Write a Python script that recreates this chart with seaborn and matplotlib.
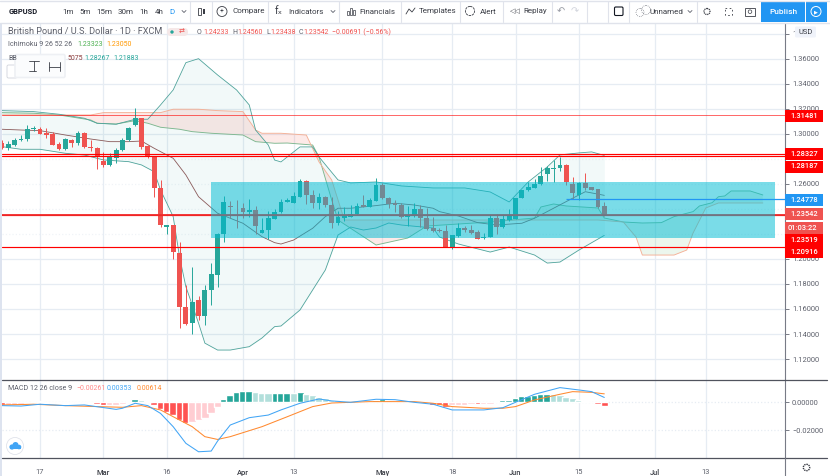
import numpy as np
import pandas as pd
import seaborn as sns
import matplotlib.pyplot as plt
from matplotlib.patches import Rectangle, Circle, FancyBboxPatch

# daily candles GBPUSD, first bar is 6 sessions before 17 Feb
opens = [1.2930,1.2885,1.2911,1.2951,1.2956,1.3036,1.3039,1.3007,1.2996,1.2916,1.2879,1.2948,
         1.2924,1.3010,1.2898,1.2887,1.2783,1.2752,1.2810,1.2869,1.2951,1.3071,1.3127,1.2903,
         1.2818,1.2568,1.2259,1.2270,1.2049,1.1616,1.1488,1.1671,1.1541,1.1754,1.1874,1.2201,
         1.2422,1.2416,1.2408,1.2371,1.2392,1.2211,1.2232,1.2320,1.2378,1.2455,1.2450,1.2498,
         1.2623,1.2511,1.2450,1.2498,1.2431,1.2290,1.2325,1.2338,1.2359,1.2431,1.2418,1.2466,
         1.2591,1.2484,1.2445,1.2431,1.2336,1.2349,1.2397,1.2325,1.2245,1.2234,1.2224,1.2086,
         1.2187,1.2248,1.2232,1.2216,1.2171,1.2176,1.2325,1.2256,1.2312,1.2322,1.2484,1.2551,
         1.2570,1.2596,1.2681,1.2721,1.2729,1.2748,1.2599,1.2511,1.2607,1.2575,1.2556,1.2423]
highs = [1.2951,1.2946,1.2964,1.2991,1.3071,1.3063,1.3057,1.3049,1.3012,1.2938,1.2970,1.2956,
         1.3023,1.3012,1.2951,1.2892,1.2853,1.2845,1.2885,1.2964,1.3057,1.3204,1.3127,1.2911,
         1.2826,1.2632,1.2273,1.2273,1.2132,1.1794,1.1935,1.1701,1.1794,1.1967,1.2206,1.2499,
         1.2459,1.2472,1.2446,1.2480,1.2419,1.2325,1.2383,1.2399,1.2477,1.2485,1.2538,1.2636,
         1.2631,1.2551,1.2524,1.2503,1.2498,1.2383,1.2418,1.2431,1.2445,1.2511,1.2485,1.2644,
         1.2610,1.2498,1.2471,1.2445,1.2423,1.2445,1.2431,1.2405,1.2338,1.2245,1.2272,1.2195,
         1.2290,1.2264,1.2272,1.2232,1.2205,1.2352,1.2359,1.2352,1.2397,1.2484,1.2551,1.2618,
         1.2636,1.2732,1.2743,1.2790,1.2812,1.2758,1.2652,1.2612,1.2689,1.2578,1.2556,1.2456]
lows = [1.2877,1.2871,1.2903,1.2943,1.2946,1.3025,1.2996,1.2970,1.2911,1.2871,1.2871,1.2892,
        1.2911,1.2890,1.2863,1.2720,1.2738,1.2743,1.2770,1.2866,1.2946,1.3063,1.2877,1.2810,
        1.2491,1.2259,1.2201,1.2001,1.1445,1.1475,1.1403,1.1515,1.1475,1.1634,1.1775,1.2132,
        1.2326,1.2246,1.2326,1.2334,1.2201,1.2205,1.2160,1.2317,1.2370,1.2453,1.2445,1.2492,
        1.2437,1.2405,1.2399,1.2418,1.2245,1.2272,1.2304,1.2333,1.2354,1.2418,1.2413,1.2463,
        1.2477,1.2405,1.2378,1.2325,1.2264,1.2338,1.2253,1.2232,1.2219,1.2219,1.2093,1.2078,
        1.2179,1.2219,1.2197,1.2157,1.2160,1.2173,1.2200,1.2250,1.2304,1.2317,1.2484,1.2546,
        1.2564,1.2591,1.2625,1.2618,1.2705,1.2591,1.2477,1.2471,1.2551,1.2551,1.2405,1.2344]
closes = [1.2885,1.2916,1.2951,1.2959,1.3039,1.3044,1.3002,1.2994,1.2911,1.2879,1.2959,1.2927,
          1.3010,1.2895,1.2890,1.2818,1.2752,1.2813,1.2871,1.2951,1.3049,1.3127,1.2898,1.2823,
          1.2563,1.2275,1.2273,1.2052,1.1613,1.1483,1.1658,1.1541,1.1754,1.1882,1.2201,1.2451,
          1.2411,1.2411,1.2371,1.2392,1.2265,1.2232,1.2325,1.2378,1.2458,1.2469,1.2503,1.2623,
          1.2511,1.2450,1.2495,1.2431,1.2290,1.2336,1.2344,1.2359,1.2426,1.2418,1.2469,1.2591,
          1.2490,1.2439,1.2431,1.2338,1.2352,1.2399,1.2325,1.2240,1.2224,1.2221,1.2093,1.2192,
          1.2248,1.2229,1.2208,1.2157,1.2176,1.2325,1.2256,1.2320,1.2352,1.2484,1.2551,1.2575,
          1.2599,1.2663,1.2727,1.2724,1.2748,1.2612,1.2530,1.2607,1.2570,1.2554,1.2418,1.2354]
macd_hist = [-.0019,-.0017,-.0016,-.0014,-.0006,.0011,.0010,-.0005,-.0006,-.0007,-.0003,-.0005,
             -.0006,-.0007,-.0007,-.0012,-.0023,-.0022,-.0019,-.0012,.0012,.0024,.0017,.0010,
             -.0019,-.0048,-.0067,-.0092,-.0128,-.0147,-.0140,-.0128,-.0111,-.0075,-.0031,.0027,
             .0053,.0072,.0082,.0084,.0072,.0067,.0066,.0067,.0068,.0070,.0069,.0077,
             .0063,.0053,.0039,.0029,.0019,.0014,.0010,.0007,.0009,.0010,.0011,.0014,
             .0022,.0017,.0012,.0010,-.0005,.0007,-.0005,-.0007,-.0019,-.0020,-.0031,-.0019,
             -.0017,-.0016,-.0014,-.0015,-.0014,-.0012,.0010,.0017,.0018,.0029,.0043,.0046,
             .0051,.0058,.0060,.0058,.0053,.0041,.0029,.0019,.0010,.0002,-.0012,-.0026]

# indicators, read at some bars only
upper_x = [-6,-1,3,7,9,12,15,17,19,21,23,25,28,31,33,34,36,37,38,39,41,43,44,47,49,53,57,62,67,71,74,77,80,82,85,87,89]
upper_y = [1.3185,1.3177,1.3156,1.3124,1.3084,1.3076,1.3116,1.3116,1.3230,1.3350,1.3568,1.3600,1.3470,
           1.3350,1.3230,1.3030,1.2910,1.2790,1.2775,1.2815,1.2895,1.2895,1.2815,1.2631,1.2607,1.2615,
           1.2583,1.2567,1.2567,1.2535,1.2455,1.2615,1.2735,1.2831,1.2847,1.2855,1.2827]
lower_x = [-6,-3,0,4,7,10,14,16,18,19,21,22,23,25,26,28,30,33,35,37,38,41,45,47,49,51,53,55,57,62,63,66,71,74,78,80,82,85,89]
lower_y = [1.2897,1.2876,1.2876,1.2844,1.2830,1.2791,1.2777,1.2751,1.2697,1.2551,1.2338,1.2018,1.1778,
           1.1487,1.1327,1.1272,1.1272,1.1299,1.1368,1.1459,1.1464,1.1592,1.1912,1.2191,1.2255,1.2231,
           1.2247,1.2287,1.2271,1.2247,1.2175,1.2119,1.2055,1.2095,1.2031,1.1967,1.1975,1.2071,1.2188]
basis_x = [-6,-3,0,4,8,11,14,16,18,21,23,25,28,32,35,37,38,40,43,45,47,49,53,56,59,62,63,66,69,72,76,78,81,84,86,89]
basis_y = [1.3036,1.3030,1.3025,1.2990,1.2958,1.2937,1.2937,1.2942,1.2884,1.2804,1.2671,1.2497,1.2365,
           1.2285,1.2178,1.2130,1.2119,1.2151,1.2245,1.2338,1.2405,1.2405,1.2426,1.2445,1.2431,1.2405,
           1.2378,1.2343,1.2290,1.2271,1.2285,1.2325,1.2405,1.2485,1.2537,1.2508]
span_a_x = [-6,-1,3,8,9,12,15,17,19,22,24,27,32,34,37,39,43,44,46,47,53,58,61,71,78,79,81,83,88,89,92,95,98,100,103,104,106,107,108,109,112,114]
span_a_y = [1.3169,1.3164,1.3150,1.3110,1.3084,1.3078,1.3105,1.3084,1.3052,1.3036,1.3017,1.3004,1.2990,
            1.2937,1.2924,1.2926,1.2910,1.2815,1.2471,1.2311,1.2111,1.2167,1.2263,1.2295,1.2327,1.2415,
            1.2439,1.2423,1.2407,1.2327,1.2295,1.2287,1.2290,1.2338,1.2378,1.2423,1.2449,1.2497,1.2503,
            1.2543,1.2543,1.2511]
span_b_x = [-6,8,10,19,21,25,28,32,34,35,38,42,44,46,48,88,92,94,95,100,102,103,105,107,114]
span_b_y = [1.3150,1.3150,1.3169,1.3169,1.3196,1.3196,1.3185,1.3177,1.3030,1.3004,1.3004,1.2990,1.2775,
            1.2631,1.2311,1.2311,1.2295,1.2175,1.2031,1.2031,1.2071,1.2207,1.2407,1.2447,1.2447]
macd_x = [-6,-3,0,4,7,12,13,15,17,19,21,23,25,27,28,30,33,36,38,41,44,46,49,53,56,59,62,65,70,73,75,78,82,85,87,89]
macd_y = [-.0024,-.0027,-.0014,-.0024,-.0019,-.0051,-.0043,-.0007,-.0024,-.0080,-.0176,-.0296,-.0357,
          -.0352,-.0280,-.0164,-.0111,-.0092,-.0055,-.0007,.0024,.0010,.0000,.0022,.0019,.0000,-.0014,
          -.0055,-.0055,-.0039,.0000,.0058,.0106,.0089,.0077,.0035]
signal_x = [-6,-1,4,9,13,16,19,21,24,26,28,30,35,39,43,46,52,59,62,65,70,73,75,78,82,84,87,89]
signal_y = [-.0019,-.0014,-.0024,-.0031,-.0036,-.0024,-.0055,-.0104,-.0176,-.0248,-.0268,-.0248,-.0176,
            -.0104,-.0031,-.0005,.0005,.0005,-.0007,-.0031,-.0043,-.0043,-.0031,.0017,.0058,.0077,.0072,.0061]

price_ticks = [1.12,1.14,1.16,1.18,1.20,1.22,1.24,1.26,1.28,1.30,1.32,1.34,1.36,1.38]
price_labels = ['1.12000','1.14000','1.16000','1.18000','1.20000','','','1.26000','','1.30000','1.32000','1.34000','1.36000','1']
faint_ticks = [1.22,1.24,1.26,1.28]
macd_ticks = [0.0,-0.02]
date_ticks = [0,10,20,32,40,54,65,75,85,97,105]
date_labels = ['17','Mar','16','Apr','13','May','18','Jun','15','Jul','13']

red_levels = [1.31481,1.2838,1.2820,1.23542,1.20916]
blue_level = 1.24778
box_x = [27,116]
box_y = [1.2170,1.2617]

RED = '#EF5350'
GREEN = '#26A69A'
GRID = '#E6ECF3'
TXT = '#5D606B'

sns.set_style('white')
plt.rcParams['font.family'] = ['Roboto','DejaVu Sans']

W,H = 830,476
fig = plt.figure(figsize=(8.3,4.76),dpi=100,facecolor='white')
ax = fig.add_axes([2/W,1-379.7/H,783/W,356.7/H])
ax2 = fig.add_axes([2/W,1-458/H,783/W,78/H])

bars = np.arange(-6,90)
df = pd.DataFrame({'bar':bars,'o':opens,'h':highs,'l':lows,'c':closes,'mh':macd_hist})
df['up'] = df.c>=df.o

# bollinger + cloud fills
grid = np.arange(-6,115)
bb_u = np.interp(bars,upper_x,upper_y)
bb_l = np.interp(bars,lower_x,lower_y)
ax.fill_between(bars,bb_l,bb_u,color=GREEN,alpha=.06,lw=0,zorder=1)
a = np.interp(grid,span_a_x,span_a_y)
b = np.interp(grid,span_b_x,span_b_y)
ax.fill_between(grid,a,b,where=a>=b,interpolate=True,color='#4CAF50',alpha=.10,lw=0,zorder=1)
ax.fill_between(grid,a,b,where=a<b,interpolate=True,color='#F44336',alpha=.11,lw=0,zorder=1)

sns.lineplot(x=span_a_x,y=span_a_y,color='#7DB78F',linewidth=.65,errorbar=None,ax=ax,zorder=2)
sns.lineplot(x=span_b_x,y=span_b_y,color='#F4B096',linewidth=.65,errorbar=None,ax=ax,zorder=2)
sns.lineplot(x=upper_x,y=upper_y,color='#4FA39B',linewidth=.6,errorbar=None,ax=ax,zorder=2)
sns.lineplot(x=lower_x,y=lower_y,color='#4FA39B',linewidth=.6,errorbar=None,ax=ax,zorder=2)
sns.lineplot(x=basis_x,y=basis_y,color='#8A5A5A',linewidth=.6,errorbar=None,ax=ax,zorder=2)

# candles
for up,col in ((True,GREEN),(False,RED)):
    d = df[df.up==up]
    ax.vlines(d.bar,d.l,d.h,color=col,lw=.7,zorder=3)
    ax.bar(d.bar,np.maximum((d.c-d.o).abs(),.0004),bottom=d[['o','c']].min(axis=1),width=.76,color=col,lw=0,zorder=3)

# levels
for k,v in enumerate(red_levels):
    ax.axhline(v,color='#FF0000',lw=.7 if k==0 else .85,alpha=.6 if k==0 else 1,zorder=4)
ax.axhline(red_levels[3],color='#F02A2A',lw=1.3,zorder=4)
ax.add_patch(Rectangle((box_x[0],box_y[0]),box_x[1]-box_x[0],box_y[1]-box_y[0],fc='#00BCD4',alpha=.52,lw=0,zorder=5))
ax.hlines(blue_level,83,117.5,color='#2196F3',lw=.9,zorder=6)

ax.set_xlim(-6,117.5)
ax.set_ylim(1.1035,1.3885)
ax.yaxis.tick_right()
ax.set_yticks(price_ticks)
ax.set_yticklabels(price_labels,fontsize=5.4,color=TXT)
ax.set_xticks(date_ticks)
ax.tick_params(axis='x',bottom=False,labelbottom=False)
ax.tick_params(axis='y',right=True,length=3,width=.7,color='#787B86',pad=2)
ax.grid(True,color=GRID,lw=.9)
ax.set_axisbelow(True)
for t,gl in zip(price_ticks,ax.yaxis.get_gridlines()):
    if t in faint_ticks:
        gl.set_linestyle(':')
        gl.set_alpha(.6)
for s in ['top','left','bottom']:
    ax.spines[s].set_visible(False)
ax.spines['right'].set_color('#787B86')

# macd panel
df['prev'] = df.mh.shift(1)
df['state'] = np.where(df.mh>=0,np.where(df.mh>=df.prev,'gd','gl'),np.where((df.mh<=df.prev)|df.prev.isna(),'rd','rl'))
pal = {'gd':GREEN,'gl':'#B2DFDB','rd':'#FF5252','rl':'#FFCDD2'}
sns.barplot(x=df.bar,y=df.mh,hue=df.state,palette=pal,native_scale=True,dodge=False,legend=False,
            width=1.2,saturation=1,errorbar=None,ax=ax2,zorder=2)
sns.lineplot(x=signal_x,y=signal_y,color='#FF8A30',linewidth=.75,errorbar=None,ax=ax2,zorder=3)
sns.lineplot(x=macd_x,y=macd_y,color='#42A5F5',linewidth=.75,errorbar=None,ax=ax2,zorder=4)
ax2.set_xlim(-6,117.5)
ax2.set_ylim(-.0402,.0161)
ax2.yaxis.tick_right()
ax2.set_yticks(macd_ticks)
ax2.set_yticklabels(['0.00000','\u22120.02000'],fontsize=5.4,color=TXT)
ax2.set_xticks(date_ticks)
ax2.set_xticklabels(date_labels,fontsize=5.4,color=TXT)
ax2.set_xlabel('')
ax2.set_ylabel('')
ax2.tick_params(axis='x',bottom=False,pad=4.5)
ax2.tick_params(axis='y',right=True,length=3,width=.7,color='#787B86',pad=2)
ax2.grid(True,color=GRID,lw=.9)
ax2.set_axisbelow(True)
for gl in ax2.yaxis.get_gridlines():
    gl.set_linestyle(':')
for s in ['top','left','bottom']:
    ax2.spines[s].set_visible(False)
ax2.spines['right'].set_color('#787B86')
for lab in ax2.get_xticklabels():
    if lab.get_text() in ('Mar','Apr','May','Jun','Jul'):
        lab.set_color('#3A3D45')
        lab.set_fontweight('medium')

# interface layer on top, in pixels
ui = fig.add_axes([0,0,1,1],zorder=20)
ui.set_xlim(0,W)
ui.set_ylim(H,0)
ui.axis('off')
ui.patch.set_alpha(0)

def txt(x,y,s,size=5.8,color='#3A3D45',**kw):
    kw.setdefault('ha','left')
    ui.text(x,y,s,fontsize=size,color=color,va='center',**kw)

ui.add_patch(Rectangle((0,0),2,H,fc='#DDE3EF',lw=0))
ui.add_patch(Rectangle((0,0),W,22.5,fc='white',lw=0))
ui.plot([0,W],[22.5,22.5],color='#E0E3EB',lw=1)
ui.plot([0,W],[0.5,0.5],color='#E0E3EB',lw=1)
for xs in [190,212,268,339,401,460,503,552,587,608,629,697]:
    ui.plot([xs,xs],[1,22],color='#E0E3EB',lw=.8)
ui.plot([2,827],[379.7,379.7],color='#50535E',lw=.9)
ui.plot([2,827],[458,458],color='#50535E',lw=.9)
ui.plot([785,785],[458,476],color='#787B86',lw=.8)

txt(9,11.5,'GBPUSD',5.4,'#131722',fontweight='bold')
for x,s in zip([68,85,104,126,144,159],['1m','5m','15m','30m','1h','4h']):
    txt(x,11.5,s,5.8,ha='center')
txt(172,11.5,'D',5.8,'#2196F3',ha='center')
ui.plot([182,184,186],[10.5,12.5,10.5],color=TXT,lw=.6)
# candle icon
ui.add_patch(Rectangle((198,8),2.5,7,fc='none',ec='#3A3D45',lw=.6))
ui.add_patch(Rectangle((202.5,9),2.5,5,fc='#3A3D45',lw=0))
ui.add_patch(Circle((222,11.5),5,fc='none',ec='#3A3D45',lw=.6))
txt(222,11.5,'+',5,ha='center')
txt(232,11.5,'Compare')
txt(275,11.5,'f\u2093',7.5)
txt(288,11.5,'Indicators')
ui.plot([331,333,335],[10.5,12.5,10.5],color=TXT,lw=.6)
for x0,h0 in zip([347,350,353],[4,7,5]):
    ui.add_patch(Rectangle((x0,15-h0),2.2,h0,fc='none',ec='#3A3D45',lw=.5))
txt(359,11.5,'Financials')
ui.plot([406,409,412,415],[14,9,12,8],color='#3A3D45',lw=.6)
txt(419,11.5,'Templates')
ui.add_patch(Circle((470,11),4.6,fc='none',ec='#3A3D45',lw=.6,ls=(0,(3,1))))
txt(480,11.5,'Alert')
txt(510,11.5,'\u25c1\u25c1',5)
txt(523,11.5,'Replay')
txt(557,11.5,'\u21b6',7,'#9598A1')
txt(571,11.5,'\u21b7',7,'#D1D4DC')
ui.add_patch(FancyBboxPatch((614.5,7),8.5,8.5,boxstyle='round,pad=0,rounding_size=1.2',fc='none',ec='#131722',lw=.8))
ui.add_patch(Circle((640,12.5),4,fc='none',ec=TXT,lw=.5,ls=':'))
ui.add_patch(Circle((646,10),4.5,fc='none',ec=TXT,lw=.5,ls=':'))
txt(649,11.5,'Unnamed')
ui.plot([688,690,692],[10.5,12.5,10.5],color=TXT,lw=.6)
ui.add_patch(Circle((707,11.5),3,fc='none',ec='#3A3D45',lw=.9,ls=(0,(1,.6))))
ui.add_patch(Rectangle((725,8),7,7,fc='none',ec='#3A3D45',lw=.6,ls=(0,(2,3))))
ui.add_patch(Rectangle((745,8),9.5,7.5,fc='none',ec='#3A3D45',lw=.6))
ui.add_patch(Circle((750,11.7),1.8,fc='none',ec='#3A3D45',lw=.5))
ui.add_patch(Rectangle((761,1),66,21,fc='#2196F3',lw=0))
ui.plot([805,805],[1,22],color='white',lw=.7)
txt(783,11.5,'Publish',6,'white',ha='center',fontweight='medium')
ui.add_patch(Circle((816,11.5),5,fc='none',ec='white',lw=.7))
txt(816.3,11.5,'\u25b6',3.6,'white',ha='center')

# legends
txt(8,32,'British Pound / U.S. Dollar \u00b7 1D \u00b7 FXCM',6.6,TXT)
ui.add_patch(FancyBboxPatch((167,28),21,8,boxstyle='round,pad=0,rounding_size=4',fc='#F5E8E8',lw=0))
ui.add_patch(Circle((172,32),1.7,fc=GREEN,lw=0))
txt(182,32,'\u21c4',5,RED,ha='center')
for x,s,c in [(197,'O',TXT),(203,'1.24233',RED),(232,'H',TXT),(237,'1.24560',RED),(266,'L',TXT),(270,'1.23438',RED),
              (299,'C',TXT),(303,'1.23542',RED),(332,'\u22120.00691 (\u22120.56%)',RED)]:
    txt(x,32,s,5,c)
txt(8,45,'Ichimoku 9 26 52 26',5.1,TXT)
txt(77,45,'1.23323',5,'#4CAF50')
txt(106,45,'1.23050',5,'#FF9800')
txt(8,58,'BB',5,TXT)
txt(67,58,'5075',5,'#8A3A3A')
txt(84,58,'1.28267',5,GREEN)
txt(113,58,'1.21883',5,GREEN)
txt(8,389,'MACD 12 26 close 9',5.1,TXT)
txt(76,389,'\u22120.00261',5,'#FF8A8A')
txt(107,389,'0.00353',5,'#42A5F5')
txt(137,389,'0.00614',5,'#FF8A30')

# drawing tools popup
ui.add_patch(FancyBboxPatch((7,65),10,13,boxstyle='round,pad=0,rounding_size=1.5',fc='white',ec='#D1D4DC',lw=.6))
ui.add_patch(FancyBboxPatch((15,54.5),50,23,boxstyle='round,pad=0,rounding_size=1.5',fc='#FBFCFD',ec='#EEF0F4',lw=1.2))
ui.plot([29,39],[61,61],color='#3A3D45',lw=.6)
ui.plot([34,34],[61,71],color='#3A3D45',lw=.6)
ui.plot([29,36],[71,71],color='#3A3D45',lw=.6)
ui.plot([49,49],[62,71],color='#3A3D45',lw=.6)
ui.plot([60,60],[62,71],color='#3A3D45',lw=.6)
ui.plot([49,60],[66.5,66.5],color='#3A3D45',lw=.6)

# price boxes
txt_boxes = [(115.5,'1.31481','#FF0000'),(154.3,'1.28327','#FF0000'),(166.5,'1.28187','#FF0000'),
             (240,'1.23519','#FF0000'),(251.7,'1.20916','#FF0000'),
             (199.7,'1.24778','#2196F3'),(214.4,'1.23542',RED),(228,'01:03:22',RED)]
for y,s,fc in txt_boxes:
    ui.add_patch(Rectangle((785,y-6),38,12,fc=fc,lw=0))
    txt(788 if ':' in s else 790.7,y,s,5.4,'white',fontweight='medium')
ui.add_patch(FancyBboxPatch((795,26.5),21,11,boxstyle='round,pad=0,rounding_size=1.5',fc='#F0F3FA',lw=0))
txt(805.5,32,'USD',5.4,'#3A3D45',ha='center')

# logo + gear
ui.add_patch(Circle((15,446),8.5,fc='white',ec='#E0E3EB',lw=.6))
ui.add_patch(Circle((12,447),2.6,fc='#42A5F5',lw=0))
ui.add_patch(Circle((15.5,445),3,fc='#42A5F5',lw=0))
ui.add_patch(Circle((19,447),2.3,fc='#42A5F5',lw=0))
ui.add_patch(Rectangle((10,447),11,2.2,fc='#42A5F5',lw=0))
ui.add_patch(Circle((806.5,467.5),3.2,fc='none',ec='#3A3D45',lw=1,ls=(0,(1,.6))))

fig.savefig('out.png',dpi=100)
